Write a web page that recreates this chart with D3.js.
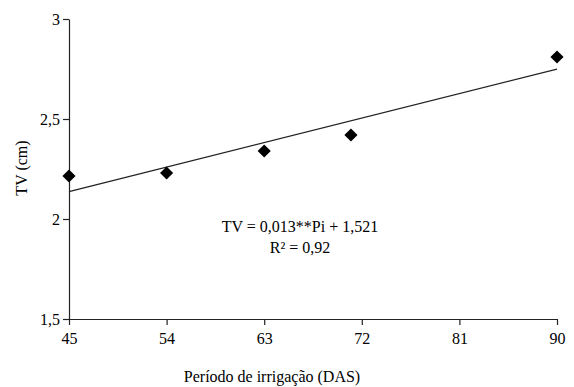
<!DOCTYPE html>
<html>
<head>
<meta charset="utf-8">
<script src="https://cdn.jsdelivr.net/npm/d3@7"></script>
<style>
  body { margin: 0; background: #fff; }
  svg, svg text, svg tspan { font-family: "Liberation Serif", "DejaVu Serif", serif !important; }
</style>
</head>
<body>
<div class="vis"></div>
<script>
var periods = [45, 54, 63, 71, 90];
var tvValues = [2.215, 2.23, 2.34, 2.42, 2.81];

// fitted line as drawn in the figure
var trendStart = [45, 2.137];
var trendEnd = [90, 2.749];

var xTicks = [45, 54, 63, 72, 81, 90];
var yTicks = [1.5, 2, 2.5, 3];
var equationLines = ["TV = 0,013**Pi + 1,521", "R² = 0,92"];

var width = 574, height = 387;
var margin = { top: 19, right: 17, bottom: 68, left: 69 };

var svg = d3.select(".vis").append("svg")
	.attr("width", width)
	.attr("height", height);

var x = d3.scaleLinear()
	.domain([45, 90])
	.range([margin.left, width - margin.right]);

var y = d3.scaleLinear()
	.domain([1.5, 3])
	.range([height - margin.bottom, margin.top]);

var fmt = function(d) { return String(d).replace(".", ","); };

// x axis
var xAxis = svg.append("g")
	.attr("transform", "translate(0," + y(1.5) + ")")
	.call(d3.axisBottom(x).tickValues(xTicks).tickFormat(fmt).tickSize(6).tickSizeOuter(0));
xAxis.selectAll("text").style("font-size", "16px").attr("dy", "1.0em").attr("fill", "#000");

// y axis
var yAxis = svg.append("g")
	.attr("transform", "translate(" + x(45) + ",0)")
	.call(d3.axisLeft(y).tickValues(yTicks).tickFormat(fmt).tickSize(6).tickSizeOuter(0));
yAxis.selectAll("text").style("font-size", "16px").attr("x", -9).attr("fill", "#000");

svg.selectAll(".domain, .tick line").attr("stroke", "#222").attr("stroke-width", 1.2);

// trend line
svg.append("line")
	.attr("x1", x(trendStart[0])).attr("y1", y(trendStart[1]))
	.attr("x2", x(trendEnd[0])).attr("y2", y(trendEnd[1]))
	.attr("stroke", "#222")
	.attr("stroke-width", 1.2);

// points
svg.selectAll(".pt")
	.data(periods)
	.enter().append("path")
	.attr("class", "pt")
	.attr("d", d3.symbol().type(d3.symbolDiamond2).size(110))
	.attr("transform", function(d, i) { return "translate(" + x(d) + "," + y(tvValues[i]) + ")"; })
	.attr("fill", "#000");

// equation
svg.append("text")
	.attr("x", 300).attr("y", 232)
	.attr("text-anchor", "middle")
	.style("font-size", "16px")
	.selectAll("tspan")
	.data(equationLines)
	.enter().append("tspan")
	.attr("x", 300)
	.attr("dy", function(d, i) { return i ? 21 : 0; })
	.text(function(d) { return d; });

// axis titles
svg.append("text")
	.attr("x", 272).attr("y", 382)
	.attr("text-anchor", "middle")
	.style("font-size", "16px")
	.text("Período de irrigação (DAS)");

svg.append("text")
	.attr("transform", "translate(27,168) rotate(-90)")
	.attr("text-anchor", "middle")
	.style("font-size", "16px")
	.text("TV (cm)");
</script>
</body>
</html>
